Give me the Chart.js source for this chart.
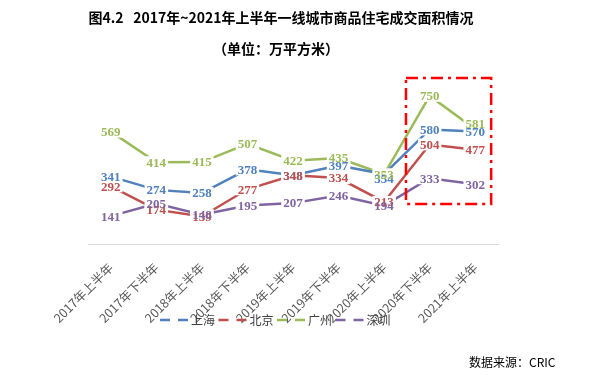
<!DOCTYPE html>
<html>
<head>
<meta charset="utf-8">
<script src="https://cdn.jsdelivr.net/npm/chart.js@4.4.0/dist/chart.umd.min.js"></script>
<style>
  html, body { margin: 0; padding: 0; background: #fff; }
  canvas { display: block; }
</style>
</head>
<body>
<canvas id="mianji-yixian" width="595" height="375"></canvas>
<script>
const periodos = ['2017年上半年', '2017年下半年', '2018年上半年', '2018年下半年', '2019年上半年',
  '2019年下半年', '2020年上半年', '2020年下半年', '2021年上半年'];
const shanghai = [341, 274, 258, 378, 348, 397, 354, 580, 570];
const beijing = [292, 174, 139, 277, 348, 334, 213, 504, 477];
const guangzhou = [569, 414, 415, 507, 422, 435, 353, 750, 581];
const shenzhen = [141, 205, 148, 195, 207, 246, 194, 333, 302];

const titulo = '图4.2\u00a0\u00a0 2017年~2021年上半年一线城市商品住宅成交面积情况';
const subtitulo = '（单位：万平方米）';
const fuente = '数据来源：CRIC';

const colores = ['#4F81BD', '#C0504D', '#9BBB59', '#8064A2'];
const cjk = '"Noto Sans CJK SC", "Noto Sans", sans-serif';

// a couple of labels were pushed apart by hand in the original (series,point -> px)
const empujes = { '0,6': 4.5, '2,8': -6 };

// white boxes first (they cut the lines), then all the texts on top
const etiquetas = {
  id: 'etiquetas',
  afterDatasetsDraw(chart) {
    const ctx = chart.ctx;
    ctx.save();
    ctx.font = 'bold 13px "Liberation Serif", serif';
    ctx.textAlign = 'center';
    ctx.textBaseline = 'middle';
    const items = [];
    chart.data.datasets.forEach((ds, i) => {
      chart.getDatasetMeta(i).data.forEach((pt, j) => {
        const txt = String(ds.data[j]);
        items.push({
          txt,
          x: pt.x,
          y: pt.y + (empujes[i + ',' + j] || 0),
          w: ctx.measureText(txt).width,
          color: ds.borderColor
        });
      });
    });
    ctx.fillStyle = '#fff';
    items.forEach(it => ctx.fillRect(it.x - it.w / 2 - 2, it.y - 6, it.w + 4, 12));
    items.forEach(it => {
      ctx.fillStyle = it.color;
      ctx.fillText(it.txt, it.x, it.y + 1);
    });
    ctx.restore();
  }
};

const adornos = {
  id: 'adornos',
  afterDraw(chart) {
    const ctx = chart.ctx;
    const x = chart.scales.x;
    const y = chart.scales.y;
    const paso = x.getPixelForValue(1) - x.getPixelForValue(0);
    ctx.save();

    // titles
    ctx.fillStyle = '#000';
    ctx.textAlign = 'center';
    ctx.textBaseline = 'middle';
    ctx.font = 'bold 14px ' + cjk;
    ctx.fillText(titulo, 281, 18);
    ctx.fillText(subtitulo, 276, 49);

    // source
    ctx.font = '12px ' + cjk;
    ctx.textAlign = 'left';
    ctx.fillText(fuente, 469, 362);

    // red dash-dot box around the last two periods
    ctx.strokeStyle = '#FF0000';
    ctx.lineWidth = 2.5;
    ctx.setLineDash([12, 5, 3, 5]);
    const l = x.getPixelForValue(7) - paso * 0.52;
    const r = x.getPixelForValue(8) + paso * 0.35;
    const t = y.getPixelForValue(840);
    const b = y.getPixelForValue(203);
    ctx.strokeRect(l, t, r - l, b - t);

    // legend with dashed keys
    ctx.setLineDash([10, 8]);
    ctx.font = '12px ' + cjk;
    ctx.textBaseline = 'middle';
    chart.data.datasets.forEach((ds, i) => {
      const x0 = 160 + i * 58.5;
      ctx.strokeStyle = ds.borderColor;
      ctx.lineWidth = 2.5;
      ctx.beginPath();
      ctx.moveTo(x0, 320);
      ctx.lineTo(x0 + 28, 320);
      ctx.stroke();
      ctx.fillStyle = '#404040';
      ctx.fillText(ds.label, x0 + 31, 320);
    });
    ctx.restore();
  }
};

const series = [
  { label: '上海', data: shanghai },
  { label: '北京', data: beijing },
  { label: '广州', data: guangzhou },
  { label: '深圳', data: shenzhen }
];

const ctx_mianji = document.getElementById('mianji-yixian').getContext('2d');

const mianji = new Chart(ctx_mianji, {
  type: 'line',
  data: {
    labels: periodos,
    datasets: series.map((s, i) => ({
      label: s.label,
      data: s.data,
      borderColor: colores[i],
      backgroundColor: colores[i],
      borderWidth: 2.5,
      pointRadius: 0,
      tension: 0,
      fill: false
    }))
  },
  options: {
    responsive: false,
    devicePixelRatio: 1,
    animation: false,
    layout: { padding: { left: 88, right: 97, top: 86, bottom: 0 } },
    plugins: {
      legend: { display: false },
      title: { display: false },
      tooltip: { enabled: false }
    },
    scales: {
      x: {
        offset: true,
        grid: { display: false, drawTicks: false, offset: true },
        border: { display: true, color: '#D9D9D9', width: 1 },
        ticks: {
          autoSkip: false,
          minRotation: 45,
          maxRotation: 45,
          padding: 16,
          color: '#595959',
          font: { family: cjk, size: 12.5 }
        },
        afterFit(scale) { scale.height = 131; }
      },
      y: { display: false, min: 0, max: 800 }
    }
  },
  plugins: [etiquetas, adornos]
});
</script>
</body>
</html>
